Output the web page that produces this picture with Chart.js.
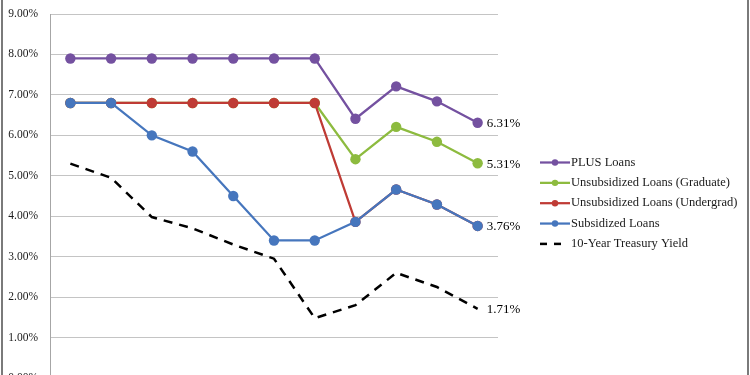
<!DOCTYPE html>
<html>
<head>
<meta charset="utf-8">
<script src="https://cdn.jsdelivr.net/npm/chart.js@4/dist/chart.umd.min.js"></script>
<style>
  html, body { margin: 0; padding: 0; background: #fff; overflow: hidden; }
  #wrap { position: relative; width: 750px; height: 375px; overflow: hidden; }
  canvas { display: block; }
</style>
</head>
<body>
<div id="wrap"><canvas id="c" width="750" height="400"></canvas></div>
<script>
const years = ["2006-07","2007-08","2008-09","2009-10","2010-11","2011-12","2012-13","2013-14","2014-15","2015-16","2016-17"];
const plusLoans = [7.9, 7.9, 7.9, 7.9, 7.9, 7.9, 7.9, 6.41, 7.21, 6.84, 6.31];
const unsubGrad = [6.8, 6.8, 6.8, 6.8, 6.8, 6.8, 6.8, 5.41, 6.21, 5.84, 5.31];
const unsubUndergrad = [6.8, 6.8, 6.8, 6.8, 6.8, 6.8, 6.8, 3.86, 4.66, 4.29, 3.76];
const subsidized = [6.8, 6.8, 6.0, 5.6, 4.5, 3.4, 3.4, 3.86, 4.66, 4.29, 3.76];
const treasury = [5.3, 4.95, 3.98, 3.7, 3.3, 2.95, 1.48, 1.8, 2.6, 2.25, 1.71];
const seriesNames = ["PLUS Loans", "Unsubsidized Loans (Graduate)", "Unsubsidized Loans (Undergrad)", "Subsidized Loans", "10-Year Treasury Yield"];
const yTicks = [0, 1, 2, 3, 4, 5, 6, 7, 8, 9];

const COL = { plus: "#7451A0", grad: "#8DBB3F", under: "#BF3B35", sub: "#4676BD", tsy: "#000000" };
const SERIF = "'Liberation Serif', 'DejaVu Serif', serif";

function lineDs(label, data, color, order) {
  return {
    label, data, borderColor: color, backgroundColor: color,
    borderWidth: 2.25, pointRadius: 5.2, pointHoverRadius: 5.2,
    pointBackgroundColor: color, pointBorderColor: color, pointBorderWidth: 0,
    tension: 0, order
  };
}

const datasets = [
  lineDs(seriesNames[0], plusLoans, COL.plus, 5),
  lineDs(seriesNames[1], unsubGrad, COL.grad, 4),
  lineDs(seriesNames[2], unsubUndergrad, COL.under, 3),
  lineDs(seriesNames[3], subsidized, COL.sub, 2),
  {
    label: seriesNames[4], data: treasury, borderColor: COL.tsy, borderWidth: 2.5,
    borderDash: [9, 7], pointRadius: 0, pointHoverRadius: 0, tension: 0, order: 1
  }
];

const endLabels = {
  id: "endLabels",
  afterDatasetsDraw(chart) {
    const ctx = chart.ctx;
    ctx.save();
    ctx.font = "13px " + SERIF;
    ctx.fillStyle = "#000";
    ctx.textAlign = "left";
    ctx.textBaseline = "middle";
    [0, 1, 3, 4].forEach(i => {
      const meta = chart.getDatasetMeta(i);
      const pt = meta.data[meta.data.length - 1];
      const v = chart.data.datasets[i].data[meta.data.length - 1];
      ctx.fillText(v.toFixed(2) + "%", pt.x + 9, pt.y + 1);
    });
    ctx.restore();
  }
};

const customLegend = {
  id: "customLegend",
  afterDraw(chart) {
    const ctx = chart.ctx;
    ctx.save();
    const x0 = 540, x1 = 570, yStart = 162.5, step = 20.35;
    ctx.font = "12.5px " + SERIF;
    ctx.textBaseline = "middle";
    ctx.textAlign = "left";
    chart.data.datasets.forEach((ds, i) => {
      const y = yStart + i * step;
      ctx.strokeStyle = ds.borderColor;
      ctx.lineWidth = ds.borderWidth;
      if (ds.borderDash) {
        ctx.setLineDash([7, 7]);
        ctx.beginPath(); ctx.moveTo(x0, y); ctx.lineTo(x1 - 7, y); ctx.stroke();
        ctx.setLineDash([]);
      } else {
        ctx.beginPath(); ctx.moveTo(x0, y); ctx.lineTo(x1, y); ctx.stroke();
        ctx.fillStyle = ds.borderColor;
        ctx.beginPath(); ctx.arc((x0 + x1) / 2, y, 3.2, 0, Math.PI * 2); ctx.fill();
      }
      ctx.fillStyle = "#1a1a1a";
      ctx.fillText(ds.label, x1 + 1, y);
    });
    // frame lines
    ctx.strokeStyle = "#7a7a7a";
    ctx.lineWidth = 2;
    ctx.beginPath(); ctx.moveTo(2, 0); ctx.lineTo(2, 400); ctx.stroke();
    ctx.beginPath(); ctx.moveTo(748, 0); ctx.lineTo(748, 400); ctx.stroke();
    ctx.restore();
  }
};

new Chart(document.getElementById("c"), {
  type: "line",
  data: { labels: years, datasets },
  options: {
    responsive: false,
    animation: false,
    events: [],
    layout: { padding: { left: 0, right: 252, top: 14, bottom: 22 } },
    plugins: { legend: { display: false }, tooltip: { enabled: false } },
    scales: {
      x: {
        type: "category", offset: true, display: false,
        grid: { display: false }
      },
      y: {
        min: 0, max: 9,
        afterFit(scale) { scale.width = 50; scale.paddingTop = 0; scale.paddingBottom = 0; },
        afterBuildTicks(scale) { scale.ticks = yTicks.map(v => ({ value: v })); },
        border: { display: true, color: "#a6a6a6", width: 1 },
        grid: { color: "#c4c4c4", lineWidth: 1, drawTicks: false },
        ticks: {
          padding: 12, color: "#1a1a1a",
          font: { family: SERIF, size: 11.5 },
          callback: v => v.toFixed(2) + "%"
        }
      }
    }
  },
  plugins: [endLabels, customLegend]
});
</script>
</body>
</html>
